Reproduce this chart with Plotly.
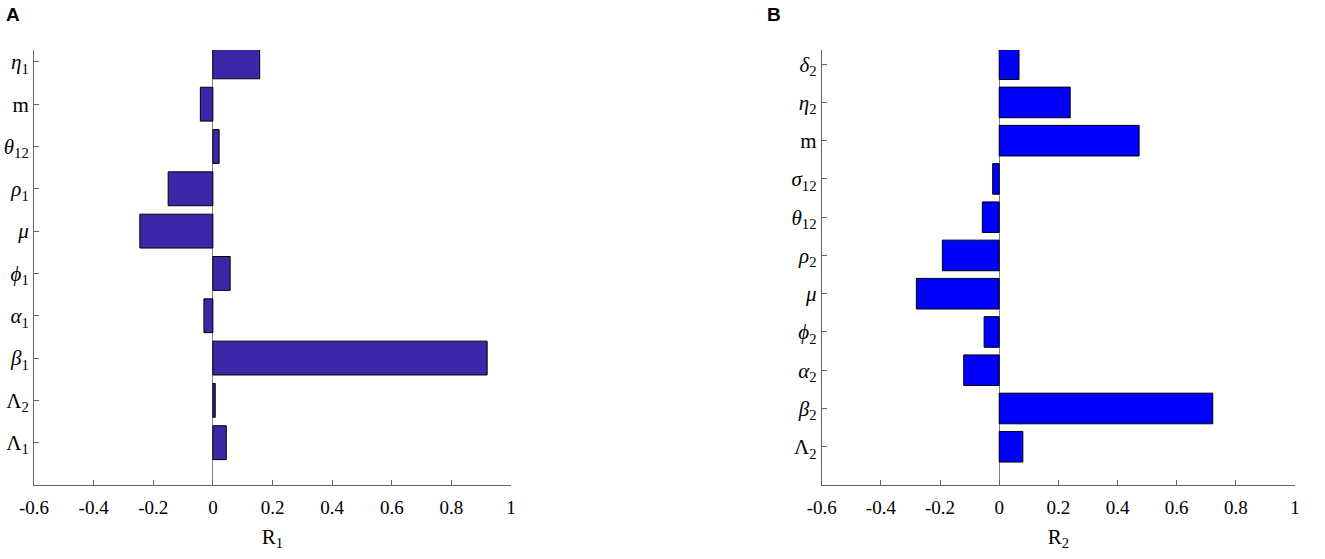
import plotly.graph_objects as go

# Panel A data (bottom to top)
cats_a = ["Λ<sub>1</sub>", "Λ<sub>2</sub>", "<i>β</i><sub>1</sub>", "<i>α</i><sub>1</sub>",
          "<i>ϕ</i><sub>1</sub>", "<i>μ</i>", "<i>ρ</i><sub>1</sub>", "<i>θ</i><sub>12</sub>",
          "m", "<i>η</i><sub>1</sub>"]
vals_a = [0.045, 0.008, 0.92, -0.03, 0.058, -0.245, -0.15, 0.021, -0.042, 0.157]

# Panel B data (bottom to top)
cats_b = ["Λ<sub>2</sub>", "<i>β</i><sub>2</sub>", "<i>α</i><sub>2</sub>", "<i>ϕ</i><sub>2</sub>",
          "<i>μ</i>", "<i>ρ</i><sub>2</sub>", "<i>θ</i><sub>12</sub>", "<i>σ</i><sub>12</sub>",
          "m", "<i>η</i><sub>2</sub>", "<i>δ</i><sub>2</sub>"]
vals_b = [0.08, 0.722, -0.12, -0.051, -0.28, -0.192, -0.057, -0.022, 0.473, 0.24, 0.067]

x_ticks = [-0.6, -0.4, -0.2, 0, 0.2, 0.4, 0.6, 0.8, 1]
x_ticktext = ["-0.6", "-0.4", "-0.2", "0", "0.2", "0.4", "0.6", "0.8", "1"]

W, H = 1325, 559
pos_a = list(range(1, len(cats_a) + 1))
pos_b = list(range(1, len(cats_b) + 1))

fig = go.Figure()
fig.add_trace(go.Bar(x=vals_a, y=pos_a, orientation="h", width=0.8,
                     marker=dict(color="rgb(61,38,168)", line=dict(color="black", width=1)),
                     xaxis="x", yaxis="y", showlegend=False))
fig.add_trace(go.Bar(x=vals_b, y=pos_b, orientation="h", width=0.8,
                     marker=dict(color="rgb(0,0,255)", line=dict(color="black", width=1)),
                     xaxis="x2", yaxis="y2", showlegend=False))

serif = "Liberation Serif, Times New Roman, serif"
axcol = "rgb(100,100,100)"
ydom = [74 / H, 1 - 50 / H]

def xax(domain, anchor, title):
    return dict(domain=domain, anchor=anchor, range=[-0.6, 1], tickvals=x_ticks, ticktext=x_ticktext,
                ticks="inside", ticklen=5, tickcolor=axcol, showline=True, linecolor=axcol, linewidth=1,
                showgrid=False, zeroline=True, zerolinecolor="rgb(130,130,130)", zerolinewidth=1,
                automargin=False, ticklabelstandoff=5,
                tickfont=dict(family=serif, size=19, color="black"),
                title=dict(text=title, font=dict(family=serif, size=21, color="black"), standoff=12))

def yax(anchor, pos, cats, top):
    return dict(domain=ydom, anchor=anchor, range=[0, top], tickvals=pos, ticktext=cats,
                ticks="inside", ticklen=5, tickcolor=axcol, showline=True, linecolor=axcol, linewidth=1,
                showgrid=False, zeroline=False, automargin=False,
                tickfont=dict(family=serif, size=21, color="black"))

fig.update_layout(
    width=W, height=H,
    margin=dict(l=0, r=0, t=0, b=0),
    plot_bgcolor="white", paper_bgcolor="white",
    bargap=0.2,
    xaxis=xax([34 / W, 511 / W], "y", "R<sub>1</sub>"),
    yaxis=yax("x", pos_a, cats_a, 10.28),
    xaxis2=xax([821.7 / W, 1295 / W], "y2", "R<sub>2</sub>"),
    yaxis2=yax("x2", pos_b, cats_b, 11.37),
    annotations=[
        dict(text="<b>A</b>", x=4 / W, y=1 - 15 / H, xref="paper", yref="paper",
             xanchor="left", yanchor="middle", showarrow=False,
             font=dict(family="Liberation Sans", size=19, color="black")),
        dict(text="<b>B</b>", x=765 / W, y=1 - 14 / H, xref="paper", yref="paper",
             xanchor="left", yanchor="middle", showarrow=False,
             font=dict(family="Liberation Sans", size=19, color="black")),
    ],
)

fig.write_html("out.html", config={"displayModeBar": False},
               post_script="document.body.style.margin='0px';")
